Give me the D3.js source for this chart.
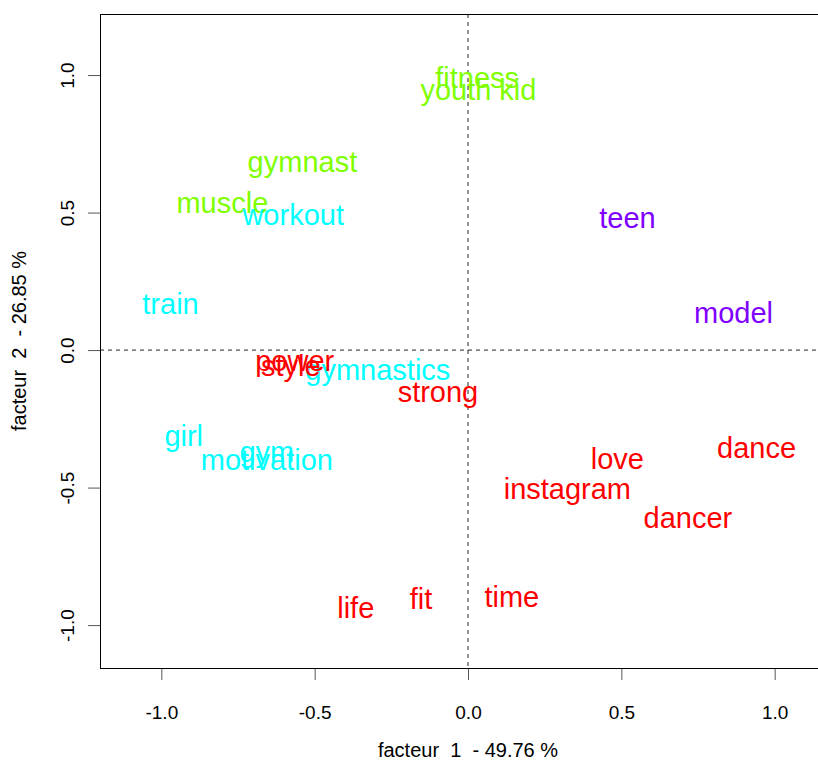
<!DOCTYPE html>
<html>
<head>
<meta charset="utf-8">
<script src="https://cdn.jsdelivr.net/npm/d3@7"></script>
<style>
  body { margin: 0; background: #fff; }
  svg { display: block; font-family: "Liberation Sans", Arial, sans-serif; }
</style>
</head>
<body>
<div id="chart"></div>
<script>
// words and their coordinates on the two first factors
var words = ["fitness", "youth kid", "gymnast", "muscle",
  "workout", "train", "gymnastics", "girl", "gym", "motivation",
  "power", "style", "strong", "love", "dance", "instagram", "dancer", "life", "fit", "time",
  "teen", "model"];
var dim1 = [0.030, 0.034, -0.540, -0.801,
  -0.570, -0.970, -0.294, -0.927, -0.656, -0.656,
  -0.565, -0.578, -0.098, 0.487, 0.941, 0.324, 0.717, -0.366, -0.153, 0.143,
  0.520, 0.866];
var dim2 = [0.990, 0.945, 0.685, 0.536,
  0.492, 0.167, -0.072, -0.313, -0.372, -0.400,
  -0.040, -0.058, -0.152, -0.397, -0.355, -0.505, -0.609, -0.939, -0.905, -0.899,
  0.480, 0.136];
var cluster = [2, 2, 2, 2,
  3, 3, 3, 3, 3, 3,
  1, 1, 1, 1, 1, 1, 1, 1, 1, 1,
  4, 4];

var clusterColors = ["#FF0000", "#80FF00", "#00FFFF", "#8000FF"];
var tickValues = [-1, -0.5, 0, 0.5, 1];
var xTitle = "facteur  1  - 49.76 %";
var yTitle = "facteur  2  - 26.85 %";

var width = 818, height = 760;
var plotLeft = 100, plotRight = 836, plotTop = 14, plotBottom = 668;

var svg = d3.select("#chart").append("svg")
  .attr("width", width)
  .attr("height", height);

var x = d3.scaleLinear().domain([-1.2, 1.2]).range([plotLeft, plotRight]);
var y = d3.scaleLinear().domain([-1.156, 1.222]).range([plotBottom, plotTop]);

var fmt = function(d) { return d.toFixed(1); };

// x axis
var gx = svg.append("g")
  .attr("transform", "translate(0," + plotBottom + ")")
  .call(d3.axisBottom(x).tickValues(tickValues).tickFormat(fmt).tickSize(12));
gx.select(".domain").remove();
gx.selectAll("line").attr("stroke", "#555");
gx.selectAll("text")
  .attr("y", 44).attr("dy", null)
  .attr("dominant-baseline", "central")
  .attr("fill", "#000")
  .style("font-size", "19px")
  .style("font-family", "Liberation Sans, Arial, sans-serif");

// y axis, labels parallel to the axis
var gy = svg.append("g")
  .attr("transform", "translate(" + plotLeft + ",0)")
  .call(d3.axisLeft(y).tickValues(tickValues).tickFormat(fmt).tickSize(12));
gy.select(".domain").remove();
gy.selectAll("line").attr("stroke", "#555");
gy.selectAll("text")
  .attr("x", 0).attr("y", -33).attr("dy", null)
  .attr("text-anchor", "middle")
  .attr("dominant-baseline", "central")
  .attr("transform", "rotate(-90)")
  .attr("fill", "#000")
  .style("font-size", "19px")
  .style("font-family", "Liberation Sans, Arial, sans-serif");

// reference lines through the origin
svg.append("line")
  .attr("x1", x(0)).attr("x2", x(0))
  .attr("y1", plotTop).attr("y2", plotBottom)
  .attr("stroke", "#222").attr("stroke-dasharray", "4,4");
svg.append("line")
  .attr("x1", plotLeft).attr("x2", plotRight)
  .attr("y1", y(0)).attr("y2", y(0))
  .attr("stroke", "#222").attr("stroke-dasharray", "4,4");

// box
svg.append("rect")
  .attr("x", plotLeft).attr("y", plotTop)
  .attr("width", plotRight - plotLeft).attr("height", plotBottom - plotTop)
  .attr("fill", "none")
  .attr("stroke", "#000")
  .attr("shape-rendering", "crispEdges");

// word labels
svg.append("g").selectAll("text")
  .data(words)
  .enter().append("text")
  .attr("x", (d, i) => x(dim1[i]))
  .attr("y", (d, i) => y(dim2[i]))
  .attr("text-anchor", "middle")
  .attr("dominant-baseline", "central")
  .attr("fill", (d, i) => clusterColors[cluster[i] - 1])
  .style("font-size", "29px")
  .text(d => d);

// axis titles
svg.append("text")
  .attr("x", (plotLeft + plotRight) / 2)
  .attr("y", 750)
  .attr("text-anchor", "middle")
  .attr("dominant-baseline", "central")
  .style("font-size", "20px")
  .style("white-space", "pre")
  .text(xTitle);

svg.append("text")
  .attr("transform", "translate(19," + (plotTop + plotBottom) / 2 + ") rotate(-90)")
  .attr("text-anchor", "middle")
  .attr("dominant-baseline", "central")
  .style("font-size", "20px")
  .style("white-space", "pre")
  .text(yTitle);
</script>
</body>
</html>
